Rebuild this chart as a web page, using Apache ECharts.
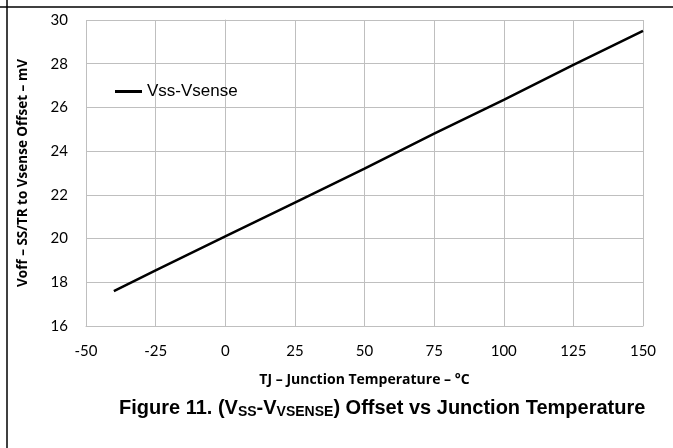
<!DOCTYPE html>
<html>
<head>
<meta charset="utf-8">
<script src="https://cdn.jsdelivr.net/npm/echarts@6/dist/echarts.min.js"></script>
<style>
  html, body { margin: 0; padding: 0; background: #fff; }
  #chart { width: 673px; height: 448px; }
</style>
</head>
<body>
<div id="chart"></div>
<script>
// 数据：结温 vs 偏置电压
const temps = [-40, -25, 0, 25, 50, 75, 100, 125, 150];
const offsets = [17.6, 18.55, 20.1, 21.65, 23.2, 24.8, 26.35, 27.95, 29.5];
const seriesName = 'Vss-Vsense';

const chart = echarts.init(document.getElementById('chart'));
const gridColor = '#bfbfbf';
const labelFont = 'Lato, "Open Sans", sans-serif';

chart.setOption({
    animation: false,
    grid: { left: 86, right: 30, top: 20, bottom: 122 },
    legend: {
        left: 110,
        top: 78,
        itemWidth: 27,
        itemHeight: 3,
        icon: 'rect',
        textStyle: { fontFamily: 'Arial, "Liberation Sans"', fontSize: 17, color: '#000' },
        data: [seriesName]
    },
    xAxis: {
        type: 'value',
        min: -50, max: 150, interval: 25,
        axisLine: { lineStyle: { color: gridColor } },
        axisTick: { show: false },
        splitLine: { lineStyle: { color: gridColor } },
        axisLabel: { color: '#000', fontSize: 15, fontFamily: labelFont, margin: 18 },
        name: 'TJ – Junction Temperature – °C',
        nameLocation: 'middle',
        nameGap: 47,
        nameTextStyle: { color: '#000', fontSize: 14, fontWeight: 'bold', fontFamily: '"Open Sans", sans-serif' }
    },
    yAxis: {
        type: 'value',
        min: 16, max: 30, interval: 2,
        axisLine: { show: true, lineStyle: { color: gridColor } },
        axisTick: { show: false },
        splitLine: { lineStyle: { color: gridColor } },
        axisLabel: { color: '#000', fontSize: 15, fontFamily: labelFont, margin: 18 },
        name: 'Voff – SS/TR to Vsense Offset – mV',
        nameLocation: 'middle',
        nameGap: 56,
        nameTextStyle: { color: '#000', fontSize: 13.5, fontWeight: 'bold', fontFamily: '"Open Sans", sans-serif' }
    },
    series: [{
        name: seriesName,
        type: 'line',
        data: temps.map((t, i) => [t, offsets[i]]),
        showSymbol: false,
        lineStyle: { color: '#000', width: 2.5 },
        itemStyle: { color: '#000' }
    }],
    graphic: [
        { type: 'line', shape: { x1: 0, y1: 7, x2: 673, y2: 7 }, style: { stroke: '#000', lineWidth: 1.5 } },
        { type: 'line', shape: { x1: 7, y1: 0, x2: 7, y2: 448 }, style: { stroke: '#000', lineWidth: 1.5 } },
        {
            type: 'text',
            left: 119,
            top: 398,
            style: {
                text: '{n|Figure 11. (V}{s|SS}{n|-V}{s|VSENSE}{n|) Offset vs Junction Temperature}',
                rich: {
                    n: { fontFamily: 'Arial, "Liberation Sans"', fontWeight: 'bold', fontSize: 20, fill: '#000' },
                    s: { fontFamily: 'Arial, "Liberation Sans"', fontWeight: 'bold', fontSize: 14, fill: '#000', verticalAlign: 'bottom', padding: [9, 0, 0, 0] }
                }
            }
        }
    ]
});
</script>
</body>
</html>
